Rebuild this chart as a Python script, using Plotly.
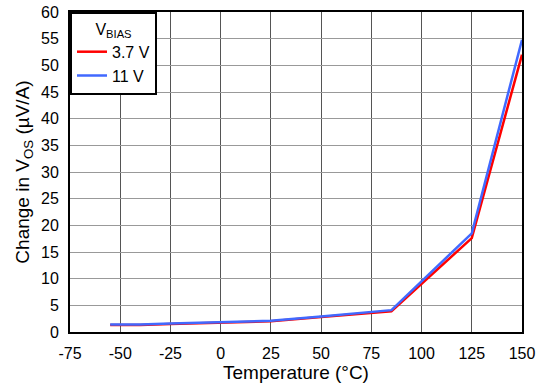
import plotly.graph_objects as go

temperature = [-55, -40, -25, 0, 25, 50, 85, 125, 150]
vos_3v7 = [1.3, 1.3, 1.5, 1.8, 2.0, 2.8, 3.9, 17.6, 52.0]
vos_11v = [1.4, 1.4, 1.6, 1.9, 2.1, 2.9, 4.1, 18.5, 54.8]

x_ticks = list(range(-75, 151, 25))
x_labels = [str(v) for v in x_ticks]
y_ticks = list(range(0, 61, 5))

font = dict(family="Liberation Sans, Arial, sans-serif", size=16, color="black")

fig = go.Figure()
fig.add_trace(go.Scatter(x=temperature, y=vos_3v7, mode="lines", name="3.7 V",
                         line=dict(color="#FF0000", width=2.5)))
fig.add_trace(go.Scatter(x=temperature, y=vos_11v, mode="lines", name="11 V",
                         line=dict(color="#4169FF", width=2.5)))

fig.update_layout(
    width=539, height=383,
    margin=dict(l=70, r=17, t=12, b=51),
    paper_bgcolor="white", plot_bgcolor="white",
    font=font,
    xaxis=dict(range=[-75, 150], tickvals=x_ticks, ticktext=x_labels, automargin=False,
               showgrid=True, gridcolor="#555555", gridwidth=1,
               zeroline=False, showline=True, linecolor="black", linewidth=2, mirror=True,
               ticks="outside", ticklen=6, tickcolor="white",
               title=dict(text="Temperature (°C)", standoff=4)),
    yaxis=dict(range=[0, 60], tickvals=y_ticks, automargin=False,
               showgrid=True, gridcolor="#999999", gridwidth=1,
               zeroline=False, showline=True, linecolor="black", linewidth=2, mirror=True,
               ticks="outside", ticklen=6, tickcolor="white",
               title=dict(text="Change in V<sub>OS</sub> (µV/A)", standoff=6)),
    legend=dict(x=0, y=1, xanchor="left", yanchor="top", bgcolor="white",
                bordercolor="black", borderwidth=2, itemwidth=30, tracegroupgap=0,
                entrywidth=62,
                title=dict(text="V<sub>BIAS</sub>", side="top center", font=dict(size=16)),
                font=dict(size=16)),
)

# remove the default page margin so the figure sits at the window's corner
fig.write_html("out.html", config={"displayModeBar": False},
               post_script="document.body.style.margin='0px';")
